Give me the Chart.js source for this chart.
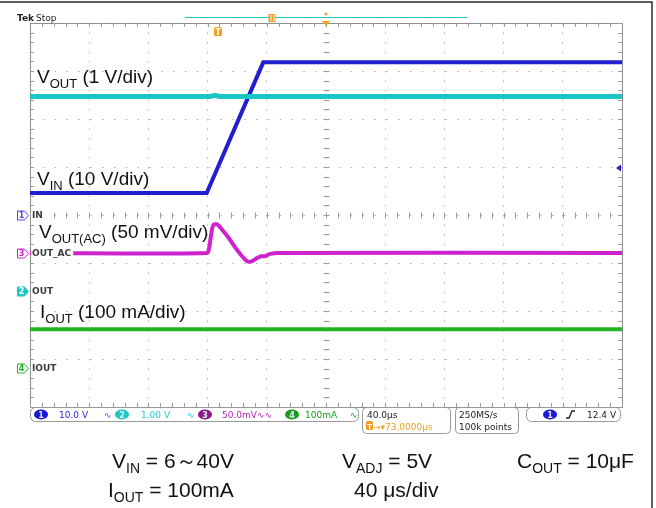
<!DOCTYPE html>
<html>
<head>
<meta charset="utf-8">
<script src="https://cdn.jsdelivr.net/npm/chart.js@4.4.1/dist/chart.umd.min.js"></script>
<style>
html, body { margin: 0; padding: 0; background: #ffffff; }
canvas { display: block; }
</style>
</head>
<body>
<canvas id="scope" width="656" height="508"></canvas>
<script>
// ESCALAS DEL OSCILOSCOPIO
// tiempo en µs respecto al centro de la pantalla, 40 µs/div
var timeTicks = [-200, -160, -120, -80, -40, 0, 40, 80, 120, 160, 200];
var divTicks = [-4, -3, -2, -1, 0, 1, 2, 3, 4];
var chNames = ["IN", "OUT", "OUT_AC", "IOUT"];
var chPerDiv = [10, 1, 50, 100];            // V, V, mV, mA por división
var chGround = [0, -1.58, -0.79, -3.19];    // referencia de cada canal (div)
var triggerTime = -73;                      // µs
var triggerLevel = 9.8;                     // V en canal 1
var holdTime = -37;                         // marcador "||" de la cabecera

// CANAL 1 - VIN (V)
var vinTime = [-200, -80.6, -42.4, 200];
var vinVolts = [4.6, 4.6, 31.8, 31.8];

// CANAL 2 - VOUT (V)
var voutTime = [-200, -78, -75, -72, 200];
var voutVolts = [4.05, 4.05, 4.075, 4.05, 4.05];

// CANAL 3 - VOUT(AC) (mV)
var acTime = [-200, -80.4, -79, -77.7, -76.4, -74.3, -72.3, -69, -65, -61, -57, -53.4, -50.7, -47.3, -44, -41.2, -37.8, -32.4, 200];
var acMilliVolts = [0, 0, 5, 18, 28, 30, 28, 22, 14, 5, -3, -8.5, -9, -6, -3.5, -3.5, -1, 0, 0];

// CANAL 4 - IOUT (mA)
var ioutTime = [-200, 200];
var ioutMilliAmps = [81, 81];

var colBlue = "#1f1fcf";
var colCyan = "#1cc6c6";
var colMagenta = "#cf22cf";
var colGreen = "#22b422";
var colOrange = "#f0a020";

function toPoints(xs, ys) {
    var out = [];
    for (var i = 0; i < xs.length; i += 1) {
        out.push({x: xs[i], y: ys[i]});
    }
    return out;
}

function chAxis(i) {
    return {
        type: "linear",
        display: false,
        min: (-4 - chGround[i]) * chPerDiv[i],
        max: (4 - chGround[i]) * chPerDiv[i]
    };
}

function gridDash(step) {
    return function (c) {
        var s = c.scale;
        if (c.tick && (c.tick.value === s.min || c.tick.value === s.max)) {
            return [];
        }
        return [1.5, step - 1.5];
    };
}

function gridColor(c) {
    var s = c.scale;
    if (c.tick && (c.tick.value === s.min || c.tick.value === s.max)) {
        return "#8c8c8c";
    }
    return "#b4b4b4";
}

function rrect(ctx, x, y, w, h, r) {
    ctx.beginPath();
    ctx.moveTo(x + r, y);
    ctx.lineTo(x + w - r, y);
    ctx.arcTo(x + w, y, x + w, y + r, r);
    ctx.lineTo(x + w, y + h - r);
    ctx.arcTo(x + w, y + h, x + w - r, y + h, r);
    ctx.lineTo(x + r, y + h);
    ctx.arcTo(x, y + h, x, y + h - r, r);
    ctx.lineTo(x, y + r);
    ctx.arcTo(x, y, x + r, y, r);
    ctx.closePath();
}

// texto con subíndices: parts = [[texto, esSub], ...]
function drawSub(ctx, x, y, parts, size, subSize) {
    var i;
    for (i = 0; i < parts.length; i += 1) {
        var sub = parts[i][1];
        ctx.font = (sub ? subSize : size) + "px 'Liberation Sans', Arial, sans-serif";
        ctx.fillText(parts[i][0], x, sub ? y + Math.round(size * 0.25) : y);
        x += ctx.measureText(parts[i][0]).width;
    }
}

// GRATICULA - marcas menores en los ejes centrales y en el borde
var graticule = {
    id: "graticule",
    beforeDatasetsDraw: function (chart) {
        var ctx = chart.ctx;
        var sx = chart.scales.x;
        var sy = chart.scales.div;
        var a = chart.chartArea;
        var cx = Math.round(sx.getPixelForValue(0)) + 0.5;
        var cy = Math.round(sy.getPixelForValue(0)) + 0.5;
        var t, v, p;
        ctx.save();
        ctx.strokeStyle = "#9a9a9a";
        ctx.lineWidth = 1;
        ctx.beginPath();
        for (t = -200; t <= 200; t += 8) {
            p = Math.round(sx.getPixelForValue(t)) + 0.5;
            ctx.moveTo(p, cy - 3); ctx.lineTo(p, cy + 3);
            ctx.moveTo(p, a.top); ctx.lineTo(p, a.top + 4);
            ctx.moveTo(p, a.bottom); ctx.lineTo(p, a.bottom - 4);
        }
        for (v = -4; v <= 4.001; v += 0.2) {
            p = Math.round(sy.getPixelForValue(v)) + 0.5;
            ctx.moveTo(cx - 3, p); ctx.lineTo(cx + 3, p);
            ctx.moveTo(a.left, p); ctx.lineTo(a.left + 4, p);
            ctx.moveTo(a.right, p); ctx.lineTo(a.right - 4, p);
        }
        ctx.stroke();
        ctx.restore();
    }
};

// MARCADORES DE CANAL, TEXTOS Y BARRA DE ESTADO
var overlay = {
    id: "overlay",
    afterDatasetsDraw: function (chart) {
        var ctx = chart.ctx;
        var sx = chart.scales.x;
        var sy = chart.scales.div;
        var a = chart.chartArea;
        var badgeFill = ["#ffffff", colCyan, "#ffffff", "#ffffff"];
        var badgeLine = ["#4a4ae0", colCyan, colMagenta, colGreen];
        var badgeText = ["#4a4ae0", "#ffffff", colMagenta, colGreen];
        var order = [0, 1, 2, 3];
        ctx.save();

        // etiquetas de referencia de cada canal
        order.forEach(function (i) {
            var y = Math.round(sy.getPixelForValue(chGround[i])) + 0.5;
            ctx.font = "bold 9px 'DejaVu Sans', sans-serif";
            var w = ctx.measureText(chNames[i]).width;
            ctx.fillStyle = "#ffffff";
            ctx.fillRect(a.left + 1, y - 5, w + 3, 10);
            ctx.fillStyle = "#3a3a3a";
            ctx.textBaseline = "middle";
            ctx.fillText(chNames[i], a.left + 2, y + 0.5);
            ctx.beginPath();
            ctx.moveTo(17.5, y - 4.5);
            ctx.lineTo(24.5, y - 4.5);
            ctx.lineTo(28.5, y);
            ctx.lineTo(24.5, y + 4.5);
            ctx.lineTo(17.5, y + 4.5);
            ctx.closePath();
            ctx.fillStyle = badgeFill[i];
            ctx.fill();
            ctx.strokeStyle = badgeLine[i];
            ctx.lineWidth = 1;
            ctx.stroke();
            ctx.fillStyle = badgeText[i];
            ctx.font = "bold 8px 'DejaVu Sans', sans-serif";
            ctx.textAlign = "center";
            ctx.fillText(String(i + 1), 21.5, y + 0.5);
            ctx.textAlign = "left";
        });
        ctx.textBaseline = "alphabetic";

        // nivel de disparo (flecha azul a la derecha)
        var ty = chart.scales.c1.getPixelForValue(triggerLevel);
        ctx.fillStyle = colBlue;
        ctx.beginPath();
        ctx.moveTo(a.right - 6, ty);
        ctx.lineTo(a.right - 1, ty - 3.5);
        ctx.lineTo(a.right - 1, ty + 3.5);
        ctx.closePath();
        ctx.fill();

        // posición del disparo "T"
        var tx = sx.getPixelForValue(triggerTime);
        ctx.fillStyle = colOrange;
        rrect(ctx, tx - 4, a.top + 4, 8, 9, 1.5);
        ctx.fill();
        ctx.fillStyle = "#ffffff";
        ctx.font = "bold 8px 'DejaVu Sans', sans-serif";
        ctx.textAlign = "center";
        ctx.fillText("T", tx, a.top + 11.5);
        ctx.textAlign = "left";

        // cabecera
        ctx.fillStyle = "#222222";
        ctx.font = "bold 9px 'DejaVu Sans', sans-serif";
        ctx.fillText("Tek", 17, 21);
        ctx.font = "9px 'DejaVu Sans', sans-serif";
        ctx.fillText("Stop", 36, 21);
        ctx.strokeStyle = colCyan;
        ctx.lineWidth = 1;
        ctx.beginPath();
        ctx.moveTo(185, 17.5);
        ctx.lineTo(467, 17.5);
        ctx.stroke();
        var hx = Math.round(sx.getPixelForValue(holdTime)) + 0.5;
        ctx.fillStyle = colOrange;
        ctx.fillRect(hx - 3, 14, 7, 8);
        ctx.fillStyle = "#ffffff";
        ctx.fillRect(hx - 1, 15, 1, 6);
        ctx.fillRect(hx + 2, 15, 1, 6);
        var cx = sx.getPixelForValue(0);
        ctx.fillStyle = colOrange;
        ctx.beginPath();
        ctx.arc(cx, 14, 1.5, 0, Math.PI * 2);
        ctx.fill();
        ctx.beginPath();
        ctx.moveTo(cx - 4, a.top - 2);
        ctx.lineTo(cx + 4, a.top - 2);
        ctx.lineTo(cx, a.top + 3);
        ctx.closePath();
        ctx.fill();

        // anotaciones grandes
        ctx.fillStyle = "#111111";
        drawSub(ctx, 37, 83, [["V", false], ["OUT", true], [" (1 V/div)", false]], 19, 13);
        drawSub(ctx, 37, 185, [["V", false], ["IN", true], [" (10 V/div)", false]], 19, 13);
        drawSub(ctx, 39, 238, [["V", false], ["OUT(AC)", true], [" (50 mV/div)", false]], 19, 13);
        drawSub(ctx, 40, 318, [["I", false], ["OUT", true], [" (100 mA/div)", false]], 19, 13);

        // barra de estado
        ctx.strokeStyle = "#9a9a9a";
        ctx.lineWidth = 1;
        rrect(ctx, 30.5, 407.5, 328, 14, 5); ctx.stroke();
        rrect(ctx, 362.5, 407.5, 88, 26, 4); ctx.stroke();
        rrect(ctx, 455.5, 407.5, 63, 26, 4); ctx.stroke();
        rrect(ctx, 526.5, 407.5, 94, 14, 5); ctx.stroke();

        function chip(x, fill, label) {
            ctx.fillStyle = fill;
            ctx.beginPath();
            ctx.ellipse(x, 414.5, 7, 5, 0, 0, Math.PI * 2);
            ctx.fill();
            ctx.fillStyle = "#e8e8ff";
            ctx.font = "bold 8px 'DejaVu Sans', sans-serif";
            ctx.textAlign = "center";
            ctx.fillText(label, x, 417.5);
            ctx.textAlign = "left";
        }
        function small(text, x, y, col) {
            ctx.fillStyle = col;
            ctx.font = "9px 'DejaVu Sans', sans-serif";
            ctx.fillText(text, x, y);
        }
        chip(41, "#1a1ad8", "1");
        small("10.0 V", 59, 418, "#2a2ad8");
        small("\u223f", 104, 418, "#5a5ae0");
        chip(122, colCyan, "2");
        small("1.00 V", 141, 418, "#30c8d8");
        small("\u223f", 187, 418, "#30c8d8");
        chip(205, "#8a1a8a", "3");
        small("50.0mV\u223f\u223f", 222, 418, "#b822b8");
        chip(292, "#1a9a1a", "4");
        small("100mA", 305, 418, "#1aa01a");
        small("\u223f", 350, 418, "#1aa01a");

        small("40.0\u00b5s", 367, 417.5, "#222222");
        ctx.fillStyle = colOrange;
        rrect(ctx, 366, 421, 7, 9, 1.5); ctx.fill();
        ctx.fillStyle = "#ffffff";
        ctx.font = "bold 7px 'DejaVu Sans', sans-serif";
        ctx.fillText("T", 367.3, 428.5);
        small("\u2192\u25be73.0000\u00b5s", 373, 429.5, colOrange);

        small("250MS/s", 459, 417.5, "#222222");
        small("100k points", 459, 429.5, "#222222");

        chip(550, "#1a1ad8", "1");
        ctx.strokeStyle = "#222222";
        ctx.lineWidth = 1.3;
        ctx.beginPath();
        ctx.moveTo(566, 418);
        ctx.lineTo(569, 418);
        ctx.lineTo(572, 411);
        ctx.lineTo(575, 411);
        ctx.stroke();
        small("12.4 V", 587, 418, "#222222");

        // texto de condiciones de prueba
        ctx.fillStyle = "#111111";
        drawSub(ctx, 112, 468, [["V", false], ["IN", true], [" = 6\uff5e40V", false]], 21, 14);
        drawSub(ctx, 342, 468, [["V", false], ["ADJ", true], [" = 5V", false]], 21, 14);
        drawSub(ctx, 517, 468, [["C", false], ["OUT", true], [" = 10\u03bcF", false]], 21, 14);
        drawSub(ctx, 108, 497, [["I", false], ["OUT", true], [" = 100mA", false]], 21, 14);
        drawSub(ctx, 354, 497, [["40 \u03bcs/div", false]], 21, 14);

        // marco exterior
        ctx.strokeStyle = "#2a2a2a";
        ctx.lineWidth = 1.5;
        ctx.beginPath();
        ctx.moveTo(0, 2);
        ctx.lineTo(652, 2);
        ctx.lineTo(652, 508);
        ctx.stroke();
        ctx.restore();
    }
};

function dataset(label, xs, ys, color, width, axis, tension) {
    return {
        label: label,
        data: toPoints(xs, ys),
        borderColor: color,
        borderWidth: width,
        pointRadius: 0,
        fill: false,
        tension: tension,
        yAxisID: axis
    };
}

var config = {
    type: "line",
    data: {
        datasets: [
            dataset("IOUT", ioutTime, ioutMilliAmps, colGreen, 4, "c4", 0),
            dataset("VOUT(AC)", acTime, acMilliVolts, colMagenta, 4, "c3", 0.3),
            dataset("VOUT", voutTime, voutVolts, colCyan, 5, "c2", 0),
            dataset("VIN", vinTime, vinVolts, colBlue, 4, "c1", 0)
        ]
    },
    options: {
        responsive: false,
        animation: false,
        devicePixelRatio: 1,
        layout: {padding: {left: 30, right: 34, top: 23, bottom: 101}},
        plugins: {legend: {display: false}, tooltip: {enabled: false}},
        scales: {
            x: {
                type: "linear",
                position: "bottom",
                min: timeTicks[0],
                max: timeTicks[timeTicks.length - 1],
                afterBuildTicks: function (s) {
                    s.ticks = timeTicks.map(function (v) { return {value: v}; });
                },
                ticks: {display: false},
                grid: {color: gridColor, lineWidth: 1, drawTicks: false},
                border: {display: true, color: "#8c8c8c", dash: gridDash(9.6)}
            },
            div: {
                type: "linear",
                position: "left",
                min: divTicks[0],
                max: divTicks[divTicks.length - 1],
                afterBuildTicks: function (s) {
                    s.ticks = divTicks.map(function (v) { return {value: v}; });
                },
                ticks: {display: false},
                grid: {color: gridColor, lineWidth: 1, drawTicks: false},
                border: {display: true, color: "#8c8c8c", dash: gridDash(11.84)}
            },
            c1: chAxis(0),
            c2: chAxis(1),
            c3: chAxis(2),
            c4: chAxis(3)
        }
    },
    plugins: [graticule, overlay]
};

new Chart(document.getElementById("scope").getContext("2d"), config);
</script>
</body>
</html>
